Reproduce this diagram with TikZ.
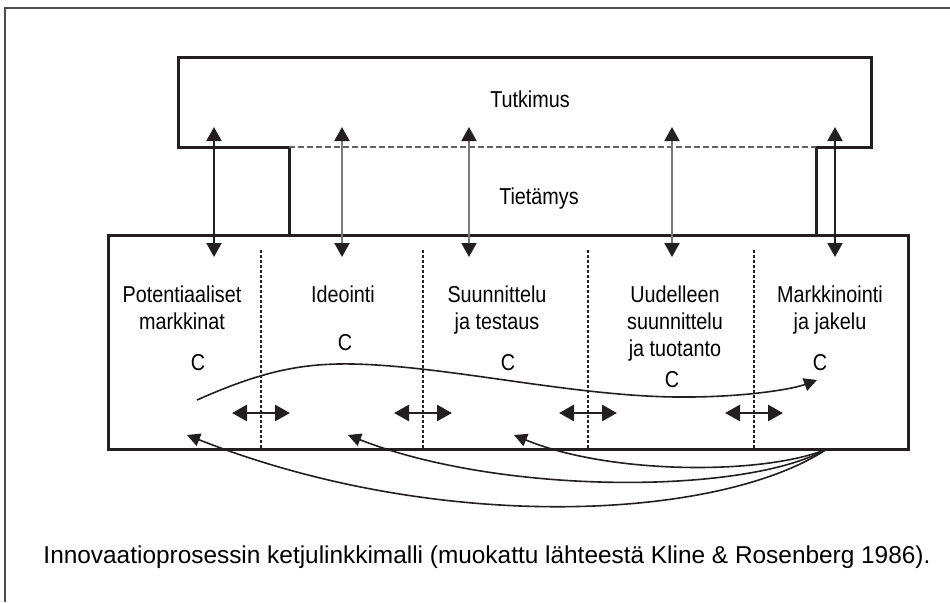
\documentclass[tikz,border=0pt]{standalone}
\usepackage{fontspec}
\setmainfont{Liberation Sans}
\newfontfamily\condfont{Liberation Sans}[FakeStretch=0.86]
\usetikzlibrary{arrows.meta}
\definecolor{ink}{RGB}{35,31,32}
\tikzset{
    every node/.style={
        inner sep=0pt,
        font=\condfont\fontsize{11.5}{13.5}\selectfont},
    outline/.style={
        draw=ink,
        line width=1.5pt},
    phase/.style={
        align=center,
        anchor=north},
    vlink/.style={
        draw=ink,
        line width=1pt,
        <->,>={Triangle[length=7pt,width=7.5pt,color=ink]}},
    hlink/.style={
        draw=ink,
        line width=1.4pt,
        <->,>={Triangle[length=7.5pt,width=8pt,color=ink]}},
    divline/.style={
        draw=ink,
        line width=1pt,
        dash pattern=on 1.5pt off 1pt},
    chainline/.style={
        draw=ink,
        line width=0.8pt,
        ->,>={Triangle[length=6.5pt,width=6.5pt]}}}

\begin{document}
\begin{tikzpicture}[x=0.5pt,y=-0.5pt]
    \useasboundingbox (0,0) rectangle (950,602);
    %\draw[help lines,step=50] (0,0) grid (950,602);
    \draw[ink!80,line width=0.75pt] (950,8) -- (5,8) -- (5,602);

    % tutkimus ja tietamys
    \draw[outline] (289,234) -- (289,147) -- (178,147) -- (178,57) -- (871,57)
        -- (871,147) -- (816,147) -- (816,234);
    \draw[ink!70,line width=1pt,dash pattern=on 3pt off 1.5pt] (289,147) -- (816,147);
    \node[anchor=base] (tutk) at (530,107) {Tutkimus};
    \node[anchor=base] (tiet) at (539,204) {Tietämys};

    % vaiheet
    \node[outline,anchor=north west,minimum width=400pt,minimum height=107pt] (phases) at (107,234) {};
    \foreach \x in {261,423,588,754}
        \draw[divline] (\x,250) -- (\x,448);

    \node[phase] (pm) at (182,285) {Potentiaaliset\\markkinat};
    \node[phase] (id) at (343,285) {Ideointi};
    \node[phase] (st) at (497,285) {Suunnittelu\\ja testaus};
    \node[phase] (us) at (675,285) {Uudelleen\\suunnittelu\\ja tuotanto};
    \node[phase] (mj) at (830,285) {Markkinointi\\ja jakelu};

    \node (c1) at (198,363) {C};
    \node (c2) at (345,343) {C};
    \node (c3) at (508,363) {C};
    \node (c4) at (672,380) {C};
    \node (c5) at (820,363) {C};

    % tietamyksen nuolet
    \foreach \x/\n/\c in {214/1/ink,342/2/ink!60,469/3/ink!60,672/4/ink!60,835/5/ink} {
        \coordinate (t\n) at (\x,127);
        \coordinate (b\n) at (\x,257);
        \draw (b\n) edge[vlink,draw=\c] (t\n);
    }

    % vaiheiden valiset nuolet
    \foreach \x [count=\n] in {261,423,588,754} {
        \coordinate (hl\n) at (\x-29,413);
        \coordinate (hr\n) at (\x+29,413);
        \draw (hl\n) edge[hlink] (hr\n);
    }

    % ketju C
    \coordinate (wa) at (197,400);
    \coordinate (wb) at (817,380);
    \draw[chainline] (wa) .. controls (260,372) and (300,363) .. (353,364)
        .. controls (450,366) and (580,398) .. (687,397)
        .. controls (740,397) and (790,390) .. (wb);

    % palautesilmukat
    \coordinate (fb) at (827,449);
    \coordinate (f1) at (187,435);
    \coordinate (f2) at (348,435);
    \coordinate (f3) at (514,435);
    \draw[chainline] (fb) .. controls +(-107,71) and +(253,100) .. (f1);
    \draw[chainline] (fb) .. controls +(-82,46) and +(152,60) .. (f2);
    \draw[chainline] (fb) .. controls +(-62,26) and +(96,40) .. (f3);
    %\draw[chainline] (fb) .. controls +(-40,10) and +(60,20) .. (f4);

    \node[anchor=base,font=\normalfont\fontsize{12.2}{14}\selectfont] (caption) at (487,563)
        {Innovaatioprosessin ketjulinkkimalli (muokattu lähteestä Kline \& Rosenberg 1986).};
\end{tikzpicture}
\end{document}
